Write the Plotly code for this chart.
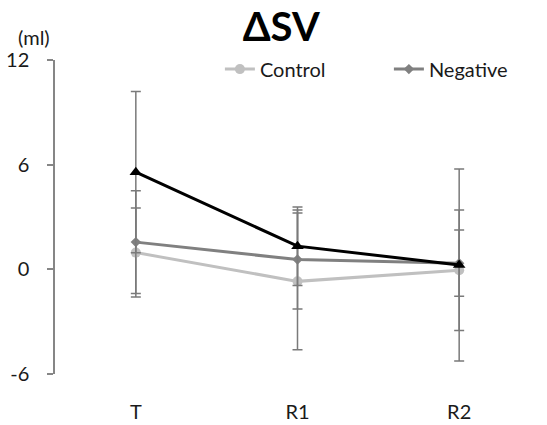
import plotly.graph_objects as go

categories = ["T", "R1", "R2"]

control_vals = [0.96, -0.69, -0.05]
control_err = [2.55, 3.92, 3.45]

negative_vals = [1.56, 0.56, 0.35]
negative_err = [2.94, 2.84, 1.9]

positive_vals = [5.57, 1.33, 0.25]
positive_err = [4.62, 2.25, 5.5]

y_ticks = [-6, 0, 6, 12]
y_tick_text = ["-6", "0", "6", "12"]
FONT = "Lato"
ERR_COLOR = "#7a7a7a"
AXIS_COLOR = "#868686"

fig = go.Figure()

def err(vals):
    return dict(type="data", array=vals, visible=True, color=ERR_COLOR, thickness=1.5, width=5)

fig.add_trace(go.Scatter(
    x=categories, y=control_vals, name="Control", mode="lines+markers",
    line=dict(color="#c0c0c0", width=3),
    marker=dict(symbol="circle", size=10, color="#c0c0c0"),
    error_y=err(control_err),
))
fig.add_trace(go.Scatter(
    x=categories, y=negative_vals, name="Negative", mode="lines+markers",
    line=dict(color="#808080", width=3),
    marker=dict(symbol="diamond", size=8, color="#808080"),
    error_y=err(negative_err),
))
fig.add_trace(go.Scatter(
    x=categories, y=positive_vals, name="Positive", mode="lines+markers",
    line=dict(color="#000000", width=3),
    marker=dict(symbol="triangle-up", size=11, color="#000000"),
    error_y=err(positive_err), showlegend=False,
))

fig.update_layout(
    width=547, height=425,
    margin=dict(l=55, r=7, t=60, b=51, autoexpand=False),
    paper_bgcolor="white", plot_bgcolor="white",
    font=dict(family=FONT, size=20, color="#1a1a1a"),
    title=dict(text="<b>ΔSV</b>", x=0.514, xanchor="center", y=0.936, yanchor="middle",
               font=dict(family=FONT, size=40, color="#000000")),
    showlegend=True,
    legend=dict(orientation="h", x=0.340, xanchor="left", y=0.971, yanchor="middle",
                font=dict(family=FONT, size=20, color="#1a1a1a"),
                entrywidth=124, bgcolor="rgba(0,0,0,0)"),
    xaxis=dict(type="category", categoryorder="array", categoryarray=categories,
               range=[-0.5, 2.5], showline=False, ticks="", showgrid=False, zeroline=False,
               automargin=False,
               ticklabelstandoff=24, tickfont=dict(family=FONT, size=20, color="#1a1a1a")),
    xaxis2=dict(overlaying="x", anchor="free", position=6 / 18, range=[-0.5, 2.5],
                showline=True, linecolor=AXIS_COLOR, linewidth=1.5, automargin=False,
                ticks="outside", tickvals=[-0.5, 0.5, 1.5, 2.5], ticklen=6, tickwidth=1.5,
                tickcolor=AXIS_COLOR, showticklabels=False, showgrid=False, zeroline=False),
    yaxis=dict(range=[-6, 12], tickvals=y_ticks, ticktext=y_tick_text, showline=True,
               linecolor=AXIS_COLOR, linewidth=1.5, automargin=False,
               ticks="outside", ticklen=6, tickwidth=1.5, tickcolor=AXIS_COLOR,
               showgrid=False, zeroline=False, ticklabelstandoff=14,
               tickfont=dict(family=FONT, size=20, color="#1a1a1a")),
    annotations=[dict(text="(ml)", xref="paper", yref="paper", x=-0.043, y=1.072,
                      xanchor="center", yanchor="middle", showarrow=False,
                      font=dict(family=FONT, size=20, color="#1a1a1a"))],
)

fig.write_html("out.html")
